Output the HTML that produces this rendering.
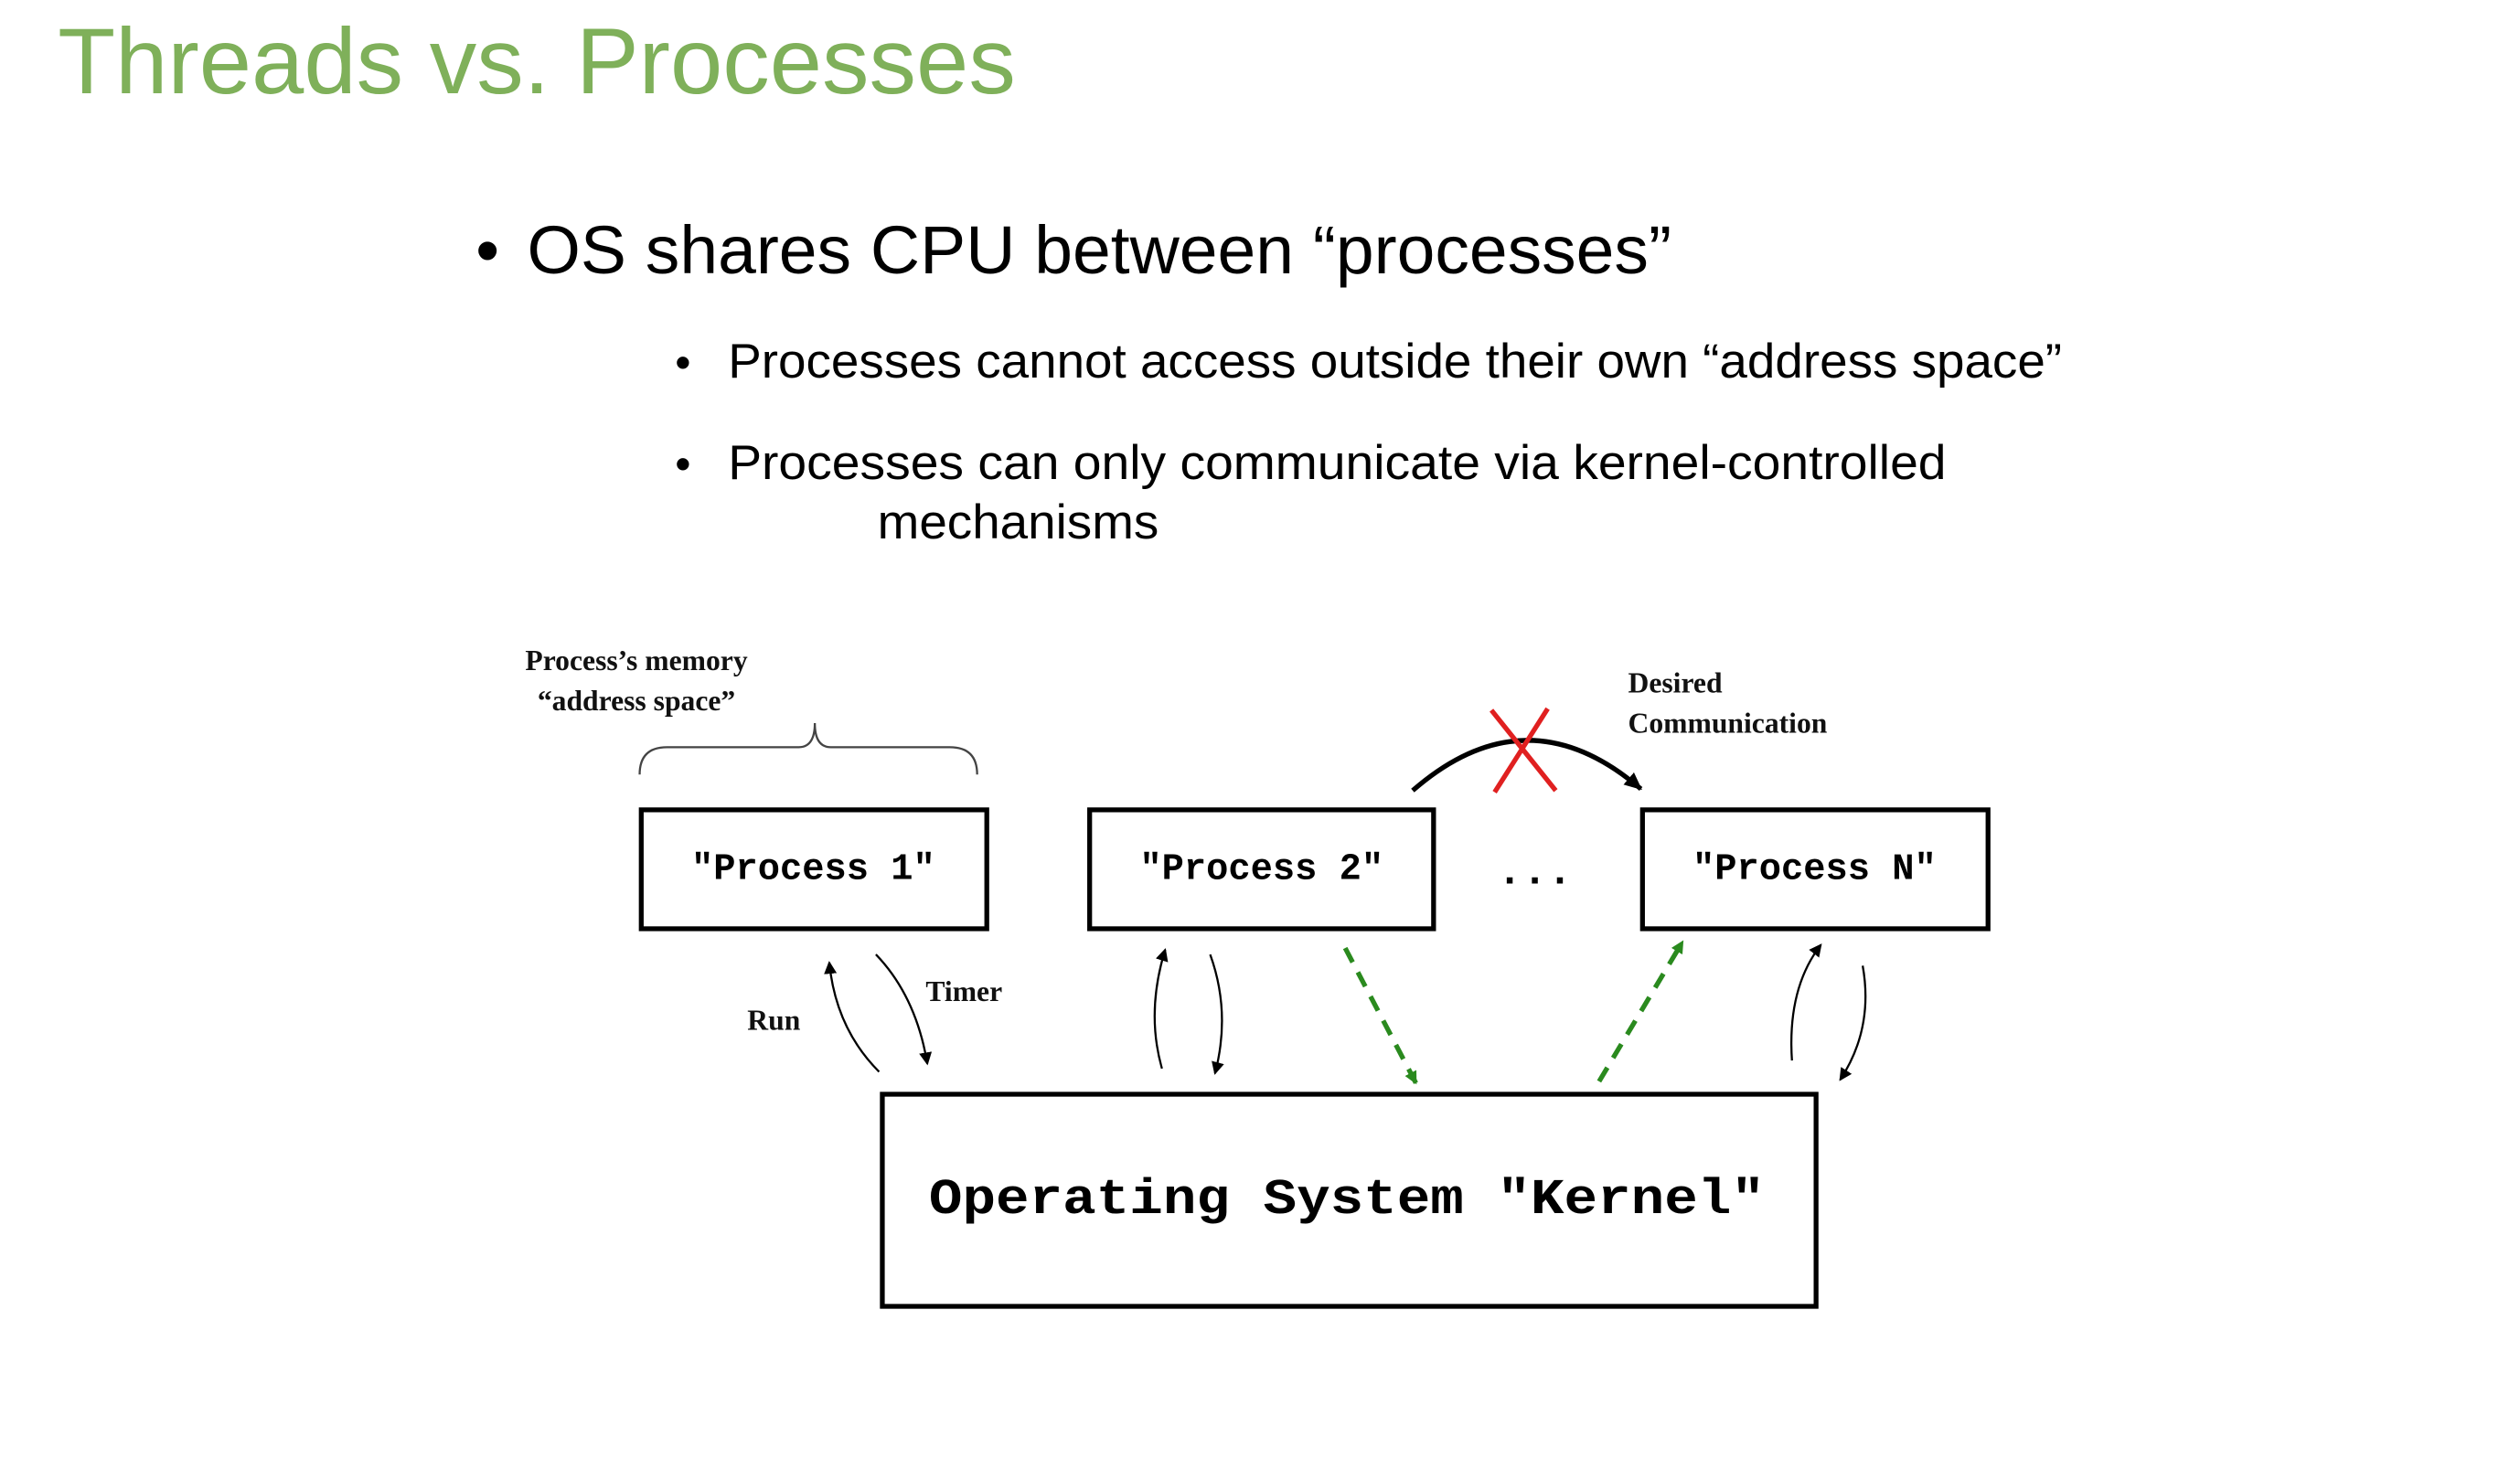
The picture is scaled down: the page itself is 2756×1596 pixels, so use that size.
<!DOCTYPE html>
<html><head><meta charset="utf-8"><style>
html,body{margin:0;padding:0;background:#fff;}
svg{display:block;}
</style></head><body>
<svg width="2756" height="1596" viewBox="0 0 1568 908" preserveAspectRatio="none" xmlns="http://www.w3.org/2000/svg">
<defs>
<marker id="a" markerWidth="8" markerHeight="8" refX="7" refY="4" orient="auto" markerUnits="userSpaceOnUse"><path d="M0,0 L8,4 L0,8 z" fill="#000"/></marker>
<marker id="g" markerWidth="8" markerHeight="8" refX="7" refY="4" orient="auto" markerUnits="userSpaceOnUse"><path d="M0,0 L8,4 L0,8 z" fill="#2a8a1e"/></marker>
<marker id="b" markerWidth="12" markerHeight="10" refX="10" refY="5" orient="auto" markerUnits="userSpaceOnUse"><path d="M0,0 L11,5 L0,10 z" fill="#000"/></marker>
</defs>
<g font-family="Liberation Sans, sans-serif">
<text x="36" y="58" font-size="58" fill="#7fb05a" textLength="596" lengthAdjust="spacingAndGlyphs">Threads vs. Processes</text>
<text x="296" y="170" font-size="42" fill="#000">•</text>
<text x="328" y="170" font-size="42" fill="#000" textLength="712" lengthAdjust="spacingAndGlyphs">OS shares CPU between “processes”</text>
<text x="420" y="235" font-size="28" fill="#000">•</text>
<text x="453" y="235" font-size="30" fill="#000" textLength="830" lengthAdjust="spacingAndGlyphs">Processes cannot access outside their own “address space”</text>
<text x="420" y="298" font-size="28" fill="#000">•</text>
<text x="453" y="298" font-size="30" fill="#000" textLength="758" lengthAdjust="spacingAndGlyphs">Processes can only communicate via kernel-controlled</text>
<text x="546" y="335" font-size="30" fill="#000" textLength="175" lengthAdjust="spacingAndGlyphs">mechanisms</text>
</g>
<g font-family="Liberation Serif, serif" font-weight="bold" font-size="18" fill="#111">
<text x="396" y="417" text-anchor="middle">Process’s memory</text>
<text x="396" y="442" text-anchor="middle">“address space”</text>
<text x="1013" y="431">Desired</text>
<text x="1013" y="456">Communication</text>
<text x="465" y="641">Run</text>
<text x="576" y="623">Timer</text>
</g>
<g fill="none" stroke="#000">
<path d="M398,482 Q398,465 415,465 L497,465 Q507,465 507,450 Q507,465 517,465 L591,465 Q608,465 608,482" stroke-width="1.3" stroke="#444"/>
<rect x="399" y="504" width="215" height="74" stroke-width="3"/>
<rect x="678" y="504" width="214" height="74" stroke-width="3"/>
<rect x="1022" y="504" width="215" height="74" stroke-width="3"/>
<rect x="549" y="681" width="581" height="132" stroke-width="3"/>
<path d="M879,492 Q950,430 1021,491" stroke-width="3" marker-end="url(#b)"/>
<path d="M547,667 Q520,640 516,599" stroke-width="1.3" marker-end="url(#a)"/>
<path d="M545,594 Q570,620 577,662" stroke-width="1.3" marker-end="url(#a)"/>
<path d="M723,665 Q713,630 725,591" stroke-width="1.3" marker-end="url(#a)"/>
<path d="M753,594 Q766,630 756,668" stroke-width="1.3" marker-end="url(#a)"/>
<path d="M1115,660 Q1112,615 1133,588" stroke-width="1.3" marker-end="url(#a)"/>
<path d="M1159,601 Q1166,640 1145,672" stroke-width="1.3" marker-end="url(#a)"/>
<path d="M837,590 L881,674" stroke="#2a8a1e" stroke-width="3" stroke-dasharray="10,7" marker-end="url(#g)"/>
<path d="M995,673 L1047,586" stroke="#2a8a1e" stroke-width="3" stroke-dasharray="10,7" marker-end="url(#g)"/>
<path d="M928,442 L968,492 M963,441 L930,493" stroke="#e02020" stroke-width="3"/>
</g>
<g font-family="Liberation Mono, monospace" font-weight="bold" fill="#000">
<text x="506" y="547" font-size="23" text-anchor="middle">"Process 1"</text>
<text x="785" y="547" font-size="23" text-anchor="middle">"Process 2"</text>
<text x="1129" y="547" font-size="23" text-anchor="middle">"Process N"</text>
<text x="955" y="550" font-size="26" text-anchor="middle">...</text>
<text x="838" y="755" font-size="31" text-anchor="middle" textLength="520" lengthAdjust="spacingAndGlyphs">Operating System "Kernel"</text>
</g>
</svg>
</body></html>
